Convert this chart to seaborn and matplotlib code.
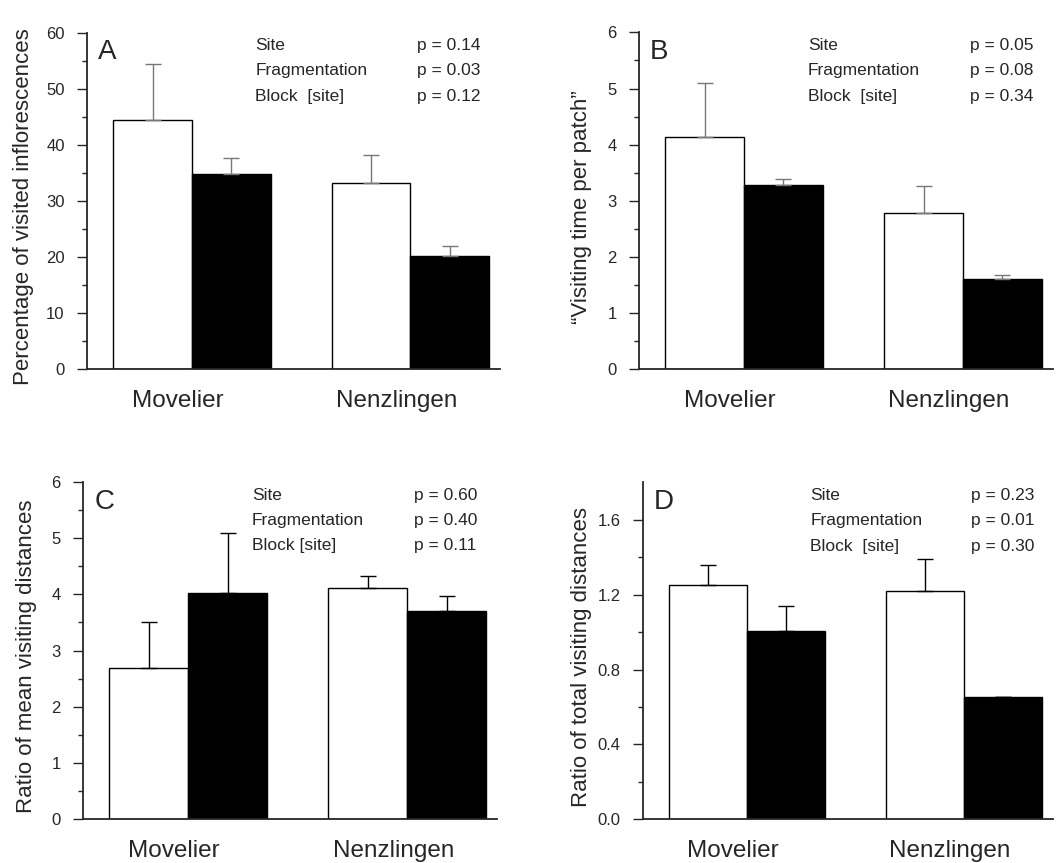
import pandas as pd
import matplotlib.pyplot as plt
import matplotlib.transforms as mtransforms
import seaborn as sns


# Data (mean and upper standard error)
sites = ["Movelier", "Nenzlingen"]
treatments = ["continuous", "fragmented"]

visited_mean = [44.5, 34.8, 33.3, 20.1]
visited_err = [10.0, 2.8, 5.0, 1.9]

time_mean = [4.14, 3.28, 2.79, 1.61]
time_err = [0.95, 0.11, 0.48, 0.07]

mean_dist_mean = [2.68, 4.03, 4.12, 3.70]
mean_dist_err = [0.83, 1.07, 0.21, 0.27]

total_dist_mean = [1.254, 1.008, 1.218, 0.651]
total_dist_err = [0.105, 0.132, 0.173, 0.004]

stats_labels = ["Site", "Fragmentation", "Block  [site]"]
stats_labels_c = ["Site", "Fragmentation", "Block [site]"]
p_values_a = ["p = 0.14", "p = 0.03", "p = 0.12"]
p_values_b = ["p = 0.05", "p = 0.08", "p = 0.34"]
p_values_c = ["p = 0.60", "p = 0.40", "p = 0.11"]
p_values_d = ["p = 0.23", "p = 0.01", "p = 0.30"]

sns.set_style("ticks")
plt.rcParams["font.family"] = ["Liberation Sans", "DejaVu Sans"]


def make_df(means, errs):
    rows = []
    i = 0
    for s in sites:
        for t in treatments:
            rows.append({"site": s, "treatment": t, "value": means[i], "err": errs[i]})
            i += 1
    return pd.DataFrame(rows)


def draw_panel(ax, means, errs, letter, ylabel, ylim, major, minor,
               labels, pvals, label_x, stem_color, tick_fmt="{:.0f}"):
    df = make_df(means, errs)
    sns.barplot(
        data=df, x="site", y="value", hue="treatment",
        hue_order=treatments, order=sites,
        palette=["white", "black"], edgecolor="black", linewidth=1.0,
        width=0.72, errorbar=None, legend=False, ax=ax, saturation=1,
    )

    # upper error bars placed on the bars seaborn drew (site-major order)
    bars = sorted([p for p in ax.patches if p.get_height() > 0],
                  key=lambda p: p.get_x())
    for bar, e in zip(bars, df["err"]):
        xc = bar.get_x() + bar.get_width() / 2
        top = bar.get_height()
        _, caps, _ = ax.errorbar(
            xc, top, yerr=[[0], [e]], fmt="none", ecolor=stem_color,
            elinewidth=1.0, capsize=5.5, capthick=1.0, zorder=1,
        )
        for c in caps:
            c.set_color("black")

    ax.set_xlim(-0.48, 1.41)
    ax.set_ylim(*ylim)
    ax.set_yticks(major)
    ax.set_yticklabels([tick_fmt.format(v) for v in major])
    ax.set_yticks(minor, minor=True)
    ax.tick_params(axis="y", which="major", length=7, width=1, labelsize=12, pad=9)
    ax.tick_params(axis="y", which="minor", length=3.5, width=1)
    ax.tick_params(axis="x", length=0, labelsize=17.5, pad=15)
    shift = mtransforms.ScaledTranslation(-10 / 72, 0, ax.figure.dpi_scale_trans)
    for lab in ax.get_xticklabels():
        lab.set_transform(lab.get_transform() + shift)
    ax.set_xlabel("")
    ax.set_ylabel(ylabel, fontsize=16)
    ax.yaxis.set_label_coords(label_x, 0.482)

    sns.despine(ax=ax)
    ax.spines["left"].set_linewidth(1.3)
    ax.spines["bottom"].set_linewidth(1.3)

    ax.text(0.027, 0.943, letter, transform=ax.transAxes, fontsize=20,
            ha="left", va="center")
    ys = [0.962, 0.888, 0.811]
    for y, lab, pv in zip(ys, labels, pvals):
        ax.text(0.408, y, lab, transform=ax.transAxes, fontsize=12.5,
                ha="left", va="center")
        ax.text(0.80, y, pv, transform=ax.transAxes, fontsize=12.5,
                ha="left", va="center")


fig = plt.figure(figsize=(10.58, 8.63), dpi=100)
ax_a = fig.add_axes([0.0822, 0.5724, 0.3904, 0.3894])
ax_b = fig.add_axes([0.6040, 0.5724, 0.3910, 0.3900])
ax_c = fig.add_axes([0.0785, 0.0513, 0.3913, 0.3898])
ax_d = fig.add_axes([0.6078, 0.0506, 0.3872, 0.3905])

draw_panel(ax_a, visited_mean, visited_err, "A",
           "Percentage of visited inflorescences", (0, 60),
           [0, 10, 20, 30, 40, 50, 60], [5, 15, 25, 35, 45, 55],
           stats_labels, p_values_a, -0.128, "#777777")
draw_panel(ax_b, time_mean, time_err, "B",
           "\u201cVisiting time per patch\u201d", (0, 6),
           [0, 1, 2, 3, 4, 5, 6], [0.5, 1.5, 2.5, 3.5, 4.5, 5.5],
           stats_labels, p_values_b, -0.114, "#777777")
draw_panel(ax_c, mean_dist_mean, mean_dist_err, "C",
           "Ratio of mean visiting distances", (0, 6),
           [0, 1, 2, 3, 4, 5, 6], [0.5, 1.5, 2.5, 3.5, 4.5, 5.5],
           stats_labels_c, p_values_c, -0.111, "black")
draw_panel(ax_d, total_dist_mean, total_dist_err, "D",
           "Ratio of total visiting distances", (0, 1.8),
           [0.0, 0.4, 0.8, 1.2, 1.6], [0.2, 0.6, 1.0, 1.4],
           stats_labels, p_values_d, -0.124, "black", tick_fmt="{:.1f}")

fig.savefig("out.png", dpi=100)
